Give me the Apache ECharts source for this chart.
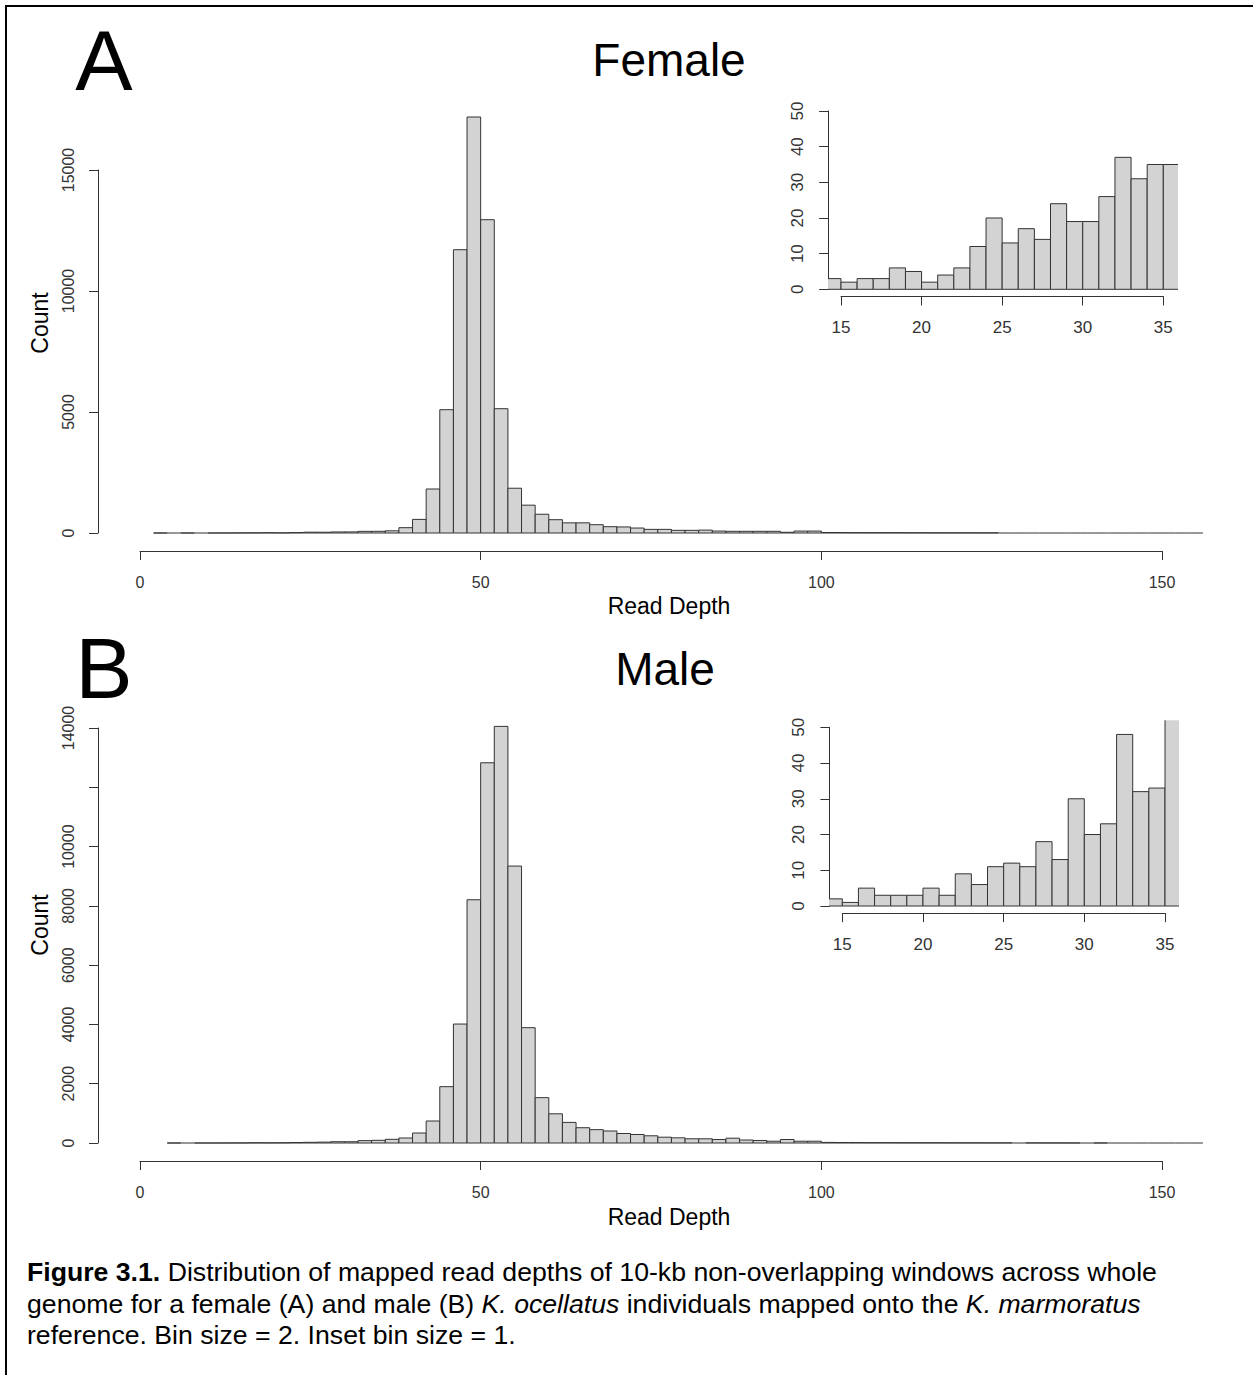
<!DOCTYPE html>
<html>
<head>
<meta charset="utf-8">
<script src="https://cdn.jsdelivr.net/npm/echarts@6/dist/echarts.min.js"></script>
<style>
  html, body { margin: 0; padding: 0; background: #fff; }
  #page { position: relative; width: 1253px; height: 1375px; overflow: hidden; }
  #chart { position: absolute; left: 0; top: 0; width: 1253px; height: 1375px; }
  #frame { position: absolute; left: 5px; top: 5px; width: 1260px; height: 1380px;
           border-left: 2px solid #000; border-top: 2px solid #000; }
  #caption { position: absolute; left: 27px; top: 1257px; font-family: 'Liberation Sans', Arial, sans-serif;
             font-size: 26.65px; line-height: 31.5px; color: #000; white-space: nowrap; }
</style>
</head>
<body>
<div id="page">
  <div id="chart"></div>
  <div id="frame"></div>
  <div id="caption">
    <b>Figure 3.1.</b> Distribution of mapped read depths of 10-kb non-overlapping windows across whole<br>
    genome for a female (A) and male (B) <i>K. ocellatus</i> individuals mapped onto the <i>K. marmoratus</i><br>
    reference. Bin size = 2. Inset bin size = 1.
  </div>
</div>
<script>
// main histograms: bin size 2, counts per bin from the first break upward
const mainBinSize = 2
const femaleFirstBreak = 2
const femaleCounts = [
  1, 0, 1, 0, 1, 2, 5, 6, 11, 6, 18, 33, 31, 43, 45, 68, 70, 90, 220, 562,
  1818, 5095, 11707, 17190, 12946, 5136, 1850, 1150, 775, 550, 420, 420, 343, 260, 250, 205,
  150, 150, 110, 110, 120, 80, 70, 70, 70, 70, 30, 80, 80,
  20, 18, 15, 14, 12, 12, 10, 10, 9, 8, 8, 7, 6,
  0, 0, 0, 0, 0, 0, 0, 0, 0, 0, 0, 0, 0, 0, 0,
]
const maleFirstBreak = 4
const maleCounts = [
  1, 0, 1, 1, 2, 3, 8, 6, 8, 15, 23, 29, 43, 43, 80, 91, 124, 169, 337, 742,
  1900, 4013, 8206, 12827, 14054, 9342, 3890, 1530, 985, 695, 515, 450, 405, 320, 287, 243,
  196, 175, 142, 142, 118, 162, 100, 85, 60, 118, 60, 60,
  20, 16, 14, 12, 12, 10, 9, 8, 8, 7, 6, 6, 5, 5,
  0, 4, 3, 3, 2, 0, 2, 0, 0, 0, 0, 0, 0, 0,
]

// insets: bin size 1, depths 14..35
const insetBinSize = 1
const insetFirstBreak = 14
const femaleInsetCounts = [3, 2, 3, 3, 6, 5, 2, 4, 6, 12, 20, 13, 17, 14, 24, 19, 19, 26, 37, 31, 35, 35]
const maleInsetCounts = [2, 1, 5, 3, 3, 3, 5, 3, 9, 6, 11, 12, 11, 18, 13, 30, 20, 23, 48, 32, 33, 58]

// tick labels
const femaleYTickLabels = ['0', '5000', '10000', '15000']
const maleYTickLabels = ['0', '2000', '4000', '6000', '8000', '10000', '', '14000']
const insetYTickLabels = ['0', '10', '20', '30', '40', '50']

const FONT = "'Liberation Sans', Arial, sans-serif"
const INK = '#333'

function toBins(first, size, counts) {
  return counts.map((c, i) => [first + i * size, first + (i + 1) * size, c])
}

function renderBin(params, api) {
  const p0 = api.coord([api.value(0), 0])
  const p1 = api.coord([api.value(1), api.value(2)])
  const h = p0[1] - p1[1]
  if (h < 0.01) {
    return { type: 'line', shape: { x1: p0[0], y1: p0[1], x2: p1[0], y2: p0[1] },
             style: { stroke: INK, lineWidth: 1 } }
  }
  return {
    type: 'rect',
    shape: { x: p0[0], y: p1[1], width: p1[0] - p0[0], height: h },
    style: { fill: '#d3d3d3', stroke: INK, lineWidth: 1 },
  }
}

function axisX(gridIndex, min, max, interval, offset, show, fontSize) {
  return {
    type: 'value', gridIndex, min, max, interval, offset, show,
    axisLine: { show: true, onZero: false, lineStyle: { color: INK, width: 1 } },
    axisTick: { show: true, length: 9, lineStyle: { color: INK, width: 1 } },
    axisLabel: { color: INK, fontSize, fontFamily: FONT, margin: 23 },
    splitLine: { show: false },
  }
}

function axisY(gridIndex, min, max, interval, offset, show, fontSize, labels) {
  return {
    type: 'value', gridIndex, min, max, interval, offset, show,
    axisLine: { show: true, onZero: false, lineStyle: { color: INK, width: 1 } },
    axisTick: { show: true, length: 9, lineStyle: { color: INK, width: 1 } },
    axisLabel: {
      color: INK, fontSize, fontFamily: FONT, rotate: 90, margin: 22,
      formatter: (v) => labels[Math.round((v - min) / interval)] ?? '',
    },
    splitLine: { show: false },
  }
}

// inset layout: axis grid spans the tick range, plot grid is R's padded region (clips bars)
function insetGrids(x15, x35, y0, y50) {
  const ux = (x35 - x15) / 20
  const uy = (y0 - y50) / 50
  return {
    axis: { left: x15, top: y50, width: x35 - x15, height: y0 - y50 },
    plot: { left: x15 - 0.8 * ux, top: y50 - 2 * uy, width: x35 - x15 + 1.6 * ux, height: y0 - y50 + 4 * uy },
    xOff: 0.8 * ux,
    yOff: 2 * uy,
  }
}
const insetA = insetGrids(841, 1163.3, 289.3, 111)
const insetB = insetGrids(842.3, 1165, 906, 727.3)

const gridBase = { containLabel: false, outerBoundsMode: 'none' }
const grids = [
  { ...gridBase, left: 140, top: 170, width: 1022, height: 363 },  // 0 main female
  { ...gridBase, left: 140, top: 728, width: 1022, height: 415 },  // 1 main male
  { ...gridBase, ...insetA.axis },                                  // 2 inset A axes
  { ...gridBase, ...insetA.plot },                                  // 3 inset A plot
  { ...gridBase, ...insetB.axis },                                  // 4 inset B axes
  { ...gridBase, ...insetB.plot },                                  // 5 inset B plot
]

const xAxes = [
  axisX(0, 0, 150, 50, 18, true, 16),
  axisX(1, 0, 150, 50, 18, true, 16),
  axisX(2, 15, 35, 5, insetA.yOff, true, 17),
  axisX(3, 14.2, 35.8, 5, 0, false, 17),
  axisX(4, 15, 35, 5, insetB.yOff, true, 17),
  axisX(5, 14.2, 35.8, 5, 0, false, 17),
]
const yAxes = [
  axisY(0, 0, 15000, 5000, 42, true, 16, femaleYTickLabels),
  axisY(1, 0, 14000, 2000, 42, true, 16, maleYTickLabels),
  axisY(2, 0, 50, 10, insetA.xOff, true, 17, insetYTickLabels),
  axisY(3, -2, 52, 10, 0, false, 17, insetYTickLabels),
  axisY(4, 0, 50, 10, insetB.xOff, true, 17, insetYTickLabels),
  axisY(5, -2, 52, 10, 0, false, 17, insetYTickLabels),
]

function histSeries(name, idx, bins, clip) {
  return {
    name, type: 'custom', xAxisIndex: idx, yAxisIndex: idx, clip,
    renderItem: renderBin, encode: { x: [0, 1], y: 2 }, data: bins, silent: true,
  }
}

function label(text, x, y, size, rotation) {
  return {
    type: 'text', x, y, rotation: rotation || 0, silent: true,
    style: { text, font: `${size}px ${FONT}`, fill: '#000', align: 'center', verticalAlign: 'middle' },
  }
}

const chart = echarts.init(document.getElementById('chart'), null, { renderer: 'svg' })
chart.setOption({
  animation: false,
  backgroundColor: '#fff',
  grid: grids,
  xAxis: xAxes,
  yAxis: yAxes,
  series: [
    histSeries('Female', 0, toBins(femaleFirstBreak, mainBinSize, femaleCounts), false),
    histSeries('Male', 1, toBins(maleFirstBreak, mainBinSize, maleCounts), false),
    histSeries('Female inset', 3, toBins(insetFirstBreak, insetBinSize, femaleInsetCounts), true),
    histSeries('Male inset', 5, toBins(insetFirstBreak, insetBinSize, maleInsetCounts), true),
  ],
  graphic: [
    label('A', 104, 60, 86),
    label('Female', 669, 60, 46),
    label('Count', 40, 323, 23, Math.PI / 2),
    label('Read Depth', 669, 606, 23),
    label('B', 104, 668, 86),
    label('Male', 665, 669, 46),
    label('Count', 40, 925, 23, Math.PI / 2),
    label('Read Depth', 669, 1217, 23),
  ],
})
</script>
</body>
</html>
